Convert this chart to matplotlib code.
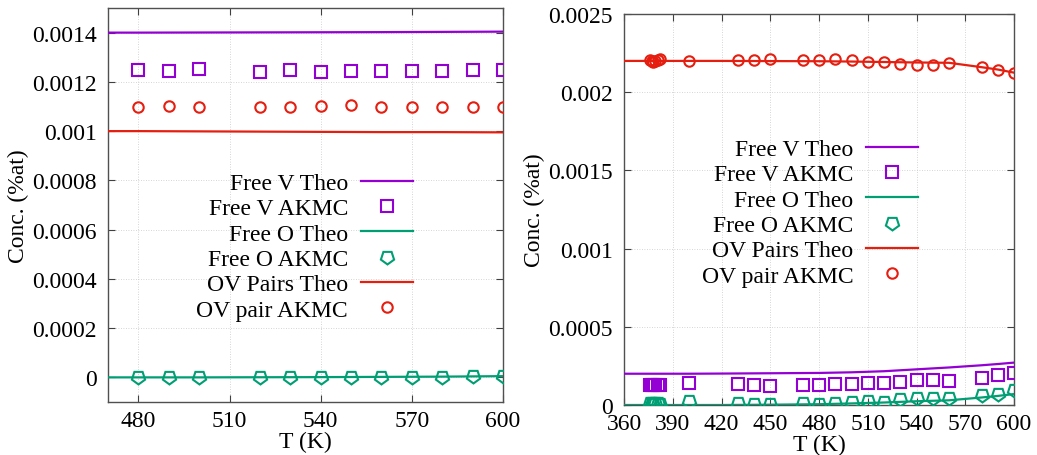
import matplotlib
matplotlib.use("Agg")
import matplotlib.pyplot as plt
from matplotlib.ticker import FuncFormatter, MultipleLocator

plt.rcParams['font.family'] = ['Liberation Serif', 'DejaVu Serif']

# ---------------- Left panel data ----------------
L_T_theo = [470, 480, 500, 520, 540, 560, 580, 600]
L_V_theo = [0.0014, 0.0014, 0.0014005, 0.001401, 0.0014015, 0.001402, 0.001403, 0.001404]
L_O_theo = [0.0, 0.0, 0.0, 0.0000005, 0.000001, 0.000002, 0.000003, 0.000005]
L_OV_theo = [0.001, 0.001, 0.000999, 0.000998, 0.000997, 0.000996, 0.000996, 0.000995]

L_T = [480, 490, 500, 520, 530, 540, 550, 560, 570, 580, 590, 600]
L_V_akmc = [0.00125, 0.001245, 0.001251, 0.001242, 0.001247, 0.00124, 0.001246,
            0.001245, 0.001245, 0.001245, 0.001247, 0.001247]
L_O_akmc = [0.0, 0.0, 0.0, 0.0, 0.000001, 0.0, 0.0, 0.000001, 0.000001, 0.000002,
            0.000007, 0.000004]
L_OV_akmc = [0.001097, 0.001101, 0.001097, 0.0011, 0.0011, 0.001104, 0.001106,
             0.0011, 0.0011, 0.0011, 0.0011, 0.0011]

# ---------------- Right panel data ----------------
R_T_theo = [360, 400, 420, 450, 480, 500, 520, 540, 560, 580, 590, 600]
R_V_theo = [0.0002, 0.0002, 0.000201, 0.000203, 0.000205, 0.000209, 0.000216,
            0.000228, 0.00024, 0.000254, 0.000262, 0.000271]
R_O_theo = [0.0, 0.0, 0.0, 0.000002, 0.000005, 0.00001, 0.000016, 0.000024,
            0.00003, 0.000048, 0.000058, 0.00007]
R_OV_theo = [0.0022, 0.0022, 0.0022, 0.002199, 0.002198, 0.002196, 0.002193,
             0.00219, 0.002188, 0.00216, 0.002145, 0.002125]

R_T = [376, 377, 378, 379, 381, 382, 400, 430, 440, 450, 470, 480, 490, 500,
       510, 520, 530, 540, 550, 560, 580, 590, 600]
R_V_akmc = [0.000128, 0.000128, 0.000128, 0.000128, 0.000128, 0.000128, 0.000143,
            0.000132, 0.000128, 0.000124, 0.00013, 0.00013, 0.000132, 0.000137,
            0.000143, 0.000143, 0.000149, 0.000158, 0.000158, 0.000154, 0.000175,
            0.00019, 0.000207]
R_O_akmc = [0.000012, 0.00001, 0.000008, 0.00001, 0.000012, 0.000006, 0.000026,
            0.000013, 0.000006, 0.000004, 0.000012, 0.000008, 0.00001, 0.000019,
            0.000023, 0.000019, 0.000036, 0.000047, 0.000043, 0.000043, 0.000062,
            0.000073, 0.000098]
R_OV_akmc = [0.002203, 0.0022, 0.002196, 0.002198, 0.002205, 0.002215, 0.0022,
             0.002209, 0.002209, 0.002215, 0.002209, 0.002207, 0.002211, 0.002205,
             0.002194, 0.002194, 0.002183, 0.002177, 0.002177, 0.002186, 0.00216,
             0.002143, 0.002122]

labels = ["Free V Theo", "Free V AKMC", "Free O Theo", "Free O AKMC",
          "OV Pairs Theo", "OV pair AKMC"]

PURPLE = "#9400d3"
GREEN = "#009e73"
RED = "#e51e10"
FS = 17

fig = plt.figure(figsize=(10.37, 4.56), dpi=100)
axL = fig.add_axes([108/1037, 1-403/456, 395/1037, 394/456])
axR = fig.add_axes([624/1037, 1-406/456, 390/1037, 391/456])

pent = (5, 0, 180)


def draw(ax, Tt, Vt, Ot, OVt, Ta, Va, Oa, OVa):
    lw = 1.6
    mew = 1.5
    h1, = ax.plot(Tt, Vt, color=PURPLE, lw=lw, zorder=3)
    h2, = ax.plot(Ta, Va, ls='none', marker='s', ms=8.5, mfc='none', mec=PURPLE, mew=mew, zorder=4)
    h3, = ax.plot(Tt, Ot, color=GREEN, lw=lw, zorder=3)
    h4, = ax.plot(Ta, Oa, ls='none', marker=pent, ms=10, mfc='none', mec=GREEN, mew=mew, zorder=4)
    h5, = ax.plot(Tt, OVt, color=RED, lw=lw, zorder=3)
    h6, = ax.plot(Ta, OVa, ls='none', marker='o', ms=7.5, mfc='none', mec=RED, mew=mew, zorder=4)
    return [h1, h2, h3, h4, h5, h6]


def style(ax):
    ax.grid(True, color='#c8c8c8', lw=0.6, ls=(0, (1, 2)))
    ax.set_axisbelow(True)
    ax.tick_params(direction='in', length=5, width=0.8, top=True, right=True,
                   labelsize=FS, color='#404040')
    ax.tick_params(axis='y', pad=8)
    ax.tick_params(axis='x', pad=6)
    for s in ax.spines.values():
        s.set_color('#505050')
        s.set_linewidth(1.0)
    ax.yaxis.set_major_formatter(FuncFormatter(lambda v, p: '%g' % round(v, 8)))
    ax.xaxis.set_major_locator(MultipleLocator(30))
    ax.set_xlabel("T (K)", fontsize=FS, labelpad=0)
    ax.set_ylabel("Conc. (%at)", fontsize=FS, labelpad=2)


hL = draw(axL, L_T_theo, L_V_theo, L_O_theo, L_OV_theo, L_T, L_V_akmc, L_O_akmc, L_OV_akmc)
axL.set_xlim(470, 600)
axL.set_ylim(-0.0001, 0.0015)
axL.yaxis.set_major_locator(MultipleLocator(0.0002))
style(axL)

hR = draw(axR, R_T_theo, R_V_theo, R_O_theo, R_OV_theo, R_T, R_V_akmc, R_O_akmc, R_OV_akmc)
axR.set_xlim(360, 600)
axR.set_ylim(0, 0.0025)
axR.yaxis.set_major_locator(MultipleLocator(0.0005))
style(axR)

leg_kw = dict(frameon=False, markerfirst=False, fontsize=FS, borderpad=0,
              borderaxespad=0, labelspacing=0.16, handlelength=2.2,
              handletextpad=0.55, loc='upper right')
lgL = axL.legend(hL, labels, bbox_to_anchor=(0.772, 0.5825), **leg_kw)
lgR = axR.legend(hR, labels, bbox_to_anchor=(0.754, 0.6816), **leg_kw)
for lg in (lgL, lgR):
    for t in lg.get_texts():
        t.set_ha('right')

fig.savefig("out.png", dpi=100)
